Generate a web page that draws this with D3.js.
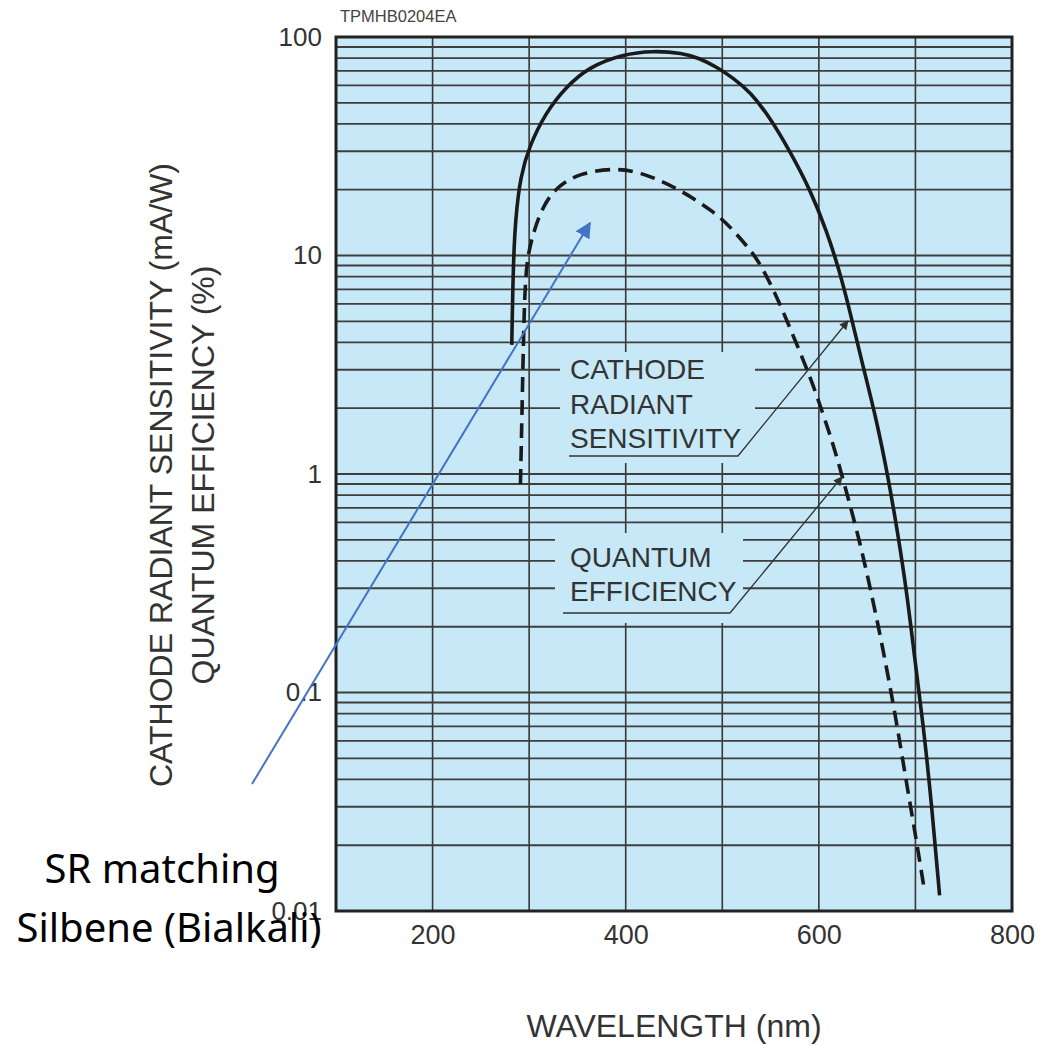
<!DOCTYPE html>
<html>
<head>
<meta charset="utf-8">
<script src="https://cdn.jsdelivr.net/npm/d3@7"></script>
<style>
  body { margin: 0; background: #fff; }
  svg { display: block; font-family: "Liberation Sans", Arial, sans-serif; }
</style>
</head>
<body>
<div id="chart"></div>
<script>
// data
const xTicks = [200, 400, 600, 800]
const yTicks = [100, 10, 1, 0.1, 0.01]
const yTickLabels = ["100", "10", "1", "0.1", "0.01"]

// cathode radiant sensitivity (mA/W)
const sensWavelength = [282, 283.5, 286, 291, 300, 317, 338, 362, 397, 428, 459, 476, 494, 511, 529, 549, 570, 591, 608, 621, 632, 645, 660, 672, 681, 691, 699, 708, 717, 725]
const sensValue = [3.9, 9.2, 15, 23, 31.5, 45, 59, 73, 83.5, 86.5, 84.5, 80, 73, 65, 56, 43, 30, 20, 13, 8.6, 5.6, 3.2, 1.75, 0.95, 0.56, 0.29, 0.146, 0.072, 0.030, 0.0118]

// quantum efficiency (%)
const qeWavelength = [291, 293, 295, 298, 305, 314, 328, 352, 387, 414, 452, 494, 511, 529, 539, 555, 568, 591, 604, 615, 625, 642, 654, 666, 679, 691, 701, 709]
const qeValue = [0.9, 2.3, 6.5, 9.9, 13, 16.7, 20.6, 23.8, 25.1, 24.2, 20.6, 15.6, 13.1, 10.6, 9.2, 6.7, 4.9, 2.8, 1.9, 1.36, 0.95, 0.50, 0.29, 0.162, 0.080, 0.038, 0.021, 0.0127]

const width = 1040
const height = 1045
const plot = { left: 336, right: 1012, top: 37, bottom: 911 }
const bg = "#c6e8f7"

const x = d3.scaleLinear().domain([100, 800]).range([plot.left, plot.right])
const y = d3.scaleLog().domain([0.01, 100]).range([plot.bottom, plot.top])

const svg = d3.select("#chart").append("svg")
    .attr("width", width)
    .attr("height", height)

const defs = svg.append("defs")
defs.append("marker")
    .attr("id", "blueHead")
    .attr("viewBox", "0 0 10 10")
    .attr("refX", 9).attr("refY", 5)
    .attr("markerWidth", 8).attr("markerHeight", 8)
    .attr("markerUnits", "strokeWidth")
    .attr("orient", "auto")
    .append("path").attr("d", "M0,0 L10,5 L0,10 z").attr("fill", "#4472c4")
defs.append("marker")
    .attr("id", "blackHead")
    .attr("viewBox", "0 0 10 10")
    .attr("refX", 9).attr("refY", 5)
    .attr("markerWidth", 9).attr("markerHeight", 7)
    .attr("markerUnits", "strokeWidth")
    .attr("orient", "auto")
    .append("path").attr("d", "M0,0 L10,5 L0,10 z").attr("fill", "#333")

// background
svg.append("rect")
    .attr("x", plot.left).attr("y", plot.top)
    .attr("width", plot.right - plot.left)
    .attr("height", plot.bottom - plot.top)
    .attr("fill", bg)

// grid
const grid = svg.append("g")
grid.selectAll(".vgrid")
    .data(d3.range(200, 800, 100))
    .join("line")
    .attr("x1", d => x(d)).attr("x2", d => x(d))
    .attr("y1", plot.top).attr("y2", plot.bottom)
    .attr("stroke", "#383838").attr("stroke-width", 1.6)

const hLines = y.ticks().filter(d => d > 0.01 && d < 100)
grid.selectAll(".hgrid")
    .data(hLines)
    .join("line")
    .attr("x1", plot.left).attr("x2", plot.right)
    .attr("y1", d => y(d)).attr("y2", d => y(d))
    .attr("stroke", "#3e3e3e")
    .attr("stroke-width", d => yTicks.includes(d) ? 2 : 1.8)

// masks behind the legend labels
svg.append("rect").attr("x", 560).attr("y", 352).attr("width", 195).attr("height", 111).attr("fill", bg)
svg.append("rect").attr("x", 555).attr("y", 533).attr("width", 188).attr("height", 90).attr("fill", bg)

// frame
svg.append("rect")
    .attr("x", plot.left).attr("y", plot.top)
    .attr("width", plot.right - plot.left)
    .attr("height", plot.bottom - plot.top)
    .attr("fill", "none")
    .attr("stroke", "#222").attr("stroke-width", 3)

// curves
const line = d3.line()
    .x(d => x(d[0]))
    .y(d => y(d[1]))
    .curve(d3.curveBasis)

svg.append("path")
    .datum(d3.zip(sensWavelength, sensValue))
    .attr("d", line)
    .attr("fill", "none")
    .attr("stroke", "#1a1a1a")
    .attr("stroke-width", 3.6)

svg.append("path")
    .datum(d3.zip(qeWavelength, qeValue))
    .attr("d", line)
    .attr("fill", "none")
    .attr("stroke", "#1a1a1a")
    .attr("stroke-width", 3.6)
    .attr("stroke-dasharray", "15,8")

// axes
const yAxis = svg.append("g")
    .attr("transform", `translate(${plot.left},0)`)
    .call(d3.axisLeft(y).tickValues(yTicks).tickSize(0).tickPadding(14)
        .tickFormat((d, i) => yTickLabels[i]))
yAxis.select(".domain").remove()
yAxis.selectAll("text").attr("font-size", 26).attr("fill", "#333")
    .attr("font-family", "Liberation Sans, Arial, sans-serif")

const xAxis = svg.append("g")
    .attr("transform", `translate(0,${plot.bottom})`)
    .call(d3.axisBottom(x).tickValues(xTicks).tickSize(0).tickPadding(14))
xAxis.select(".domain").remove()
xAxis.selectAll("text").attr("font-size", 27).attr("fill", "#333")
    .attr("font-family", "Liberation Sans, Arial, sans-serif")

// titles
svg.append("text")
    .attr("x", 340).attr("y", 22)
    .attr("font-size", 16.5).attr("fill", "#444")
    .text("TPMHB0204EA")

svg.append("text")
    .attr("transform", "translate(172,475) rotate(-90)")
    .attr("text-anchor", "middle")
    .attr("font-size", 32).attr("fill", "#333")
    .text("CATHODE RADIANT SENSITIVITY (mA/W)")
svg.append("text")
    .attr("transform", "translate(214,475) rotate(-90)")
    .attr("text-anchor", "middle")
    .attr("font-size", 32).attr("fill", "#333")
    .text("QUANTUM EFFICIENCY (%)")

svg.append("text")
    .attr("x", 674).attr("y", 1037)
    .attr("text-anchor", "middle")
    .attr("font-size", 32).attr("fill", "#333")
    .text("WAVELENGTH (nm)")

// legend labels
const legend = svg.append("g").attr("font-size", 28).attr("fill", "#333")
legend.selectAll(".crs")
    .data(["CATHODE", "RADIANT", "SENSITIVITY"])
    .join("text")
    .attr("x", 570).attr("y", (d, i) => 379 + i * 34.5)
    .text(d => d)
legend.selectAll(".qe")
    .data(["QUANTUM", "EFFICIENCY"])
    .join("text")
    .attr("x", 570).attr("y", (d, i) => 567 + i * 33.5)
    .text(d => d)

svg.append("polyline")
    .attr("points", "569,456 738,456 848,321")
    .attr("fill", "none").attr("stroke", "#333").attr("stroke-width", 1.3)
    .attr("marker-end", "url(#blackHead)")
svg.append("polyline")
    .attr("points", "563,613 730,613 842,477")
    .attr("fill", "none").attr("stroke", "#333").attr("stroke-width", 1.3)
    .attr("marker-end", "url(#blackHead)")

// annotation
svg.append("line")
    .attr("x1", 252).attr("y1", 784)
    .attr("x2", 590).attr("y2", 223)
    .attr("stroke", "#4472c4").attr("stroke-width", 2)
    .attr("marker-end", "url(#blueHead)")

const note = svg.append("g")
    .attr("font-family", "Noto Sans, Open Sans, sans-serif")
    .attr("font-size", 40).attr("fill", "#000")
    .attr("text-anchor", "middle")
note.append("text").attr("x", 162).attr("y", 883).text("SR matching")
note.append("text").attr("x", 169).attr("y", 942).text("Silbene (Bialkali)")
</script>
</body>
</html>
